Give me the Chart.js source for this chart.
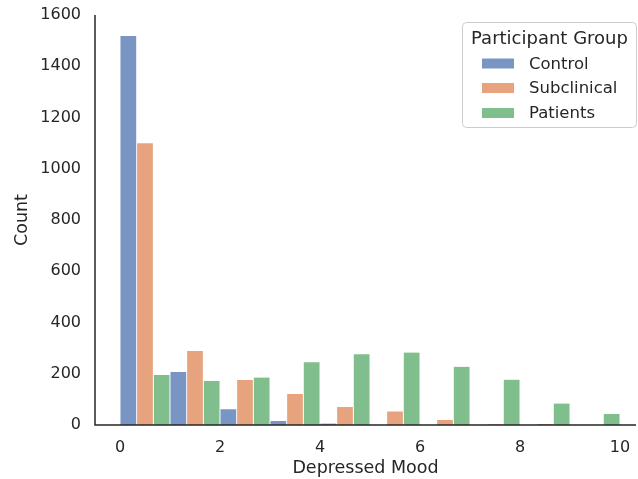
<!DOCTYPE html>
<html>
<head>
<meta charset="utf-8">
<script src="https://cdn.jsdelivr.net/npm/chart.js@4.4.1/dist/chart.umd.min.js"></script>
<style>
  html, body { margin: 0; padding: 0; background: #fff; }
  #wrap { width: 638px; height: 479px; }
</style>
</head>
<body>
<div id="wrap"><canvas id="histChart" width="638" height="479"></canvas></div>
<script>
// Histogram bins of width 1 (left edges 0..9)
const binStarts = [0, 1, 2, 3, 4, 5, 6, 7, 8, 9];
const groupNames = ['Control', 'Subclinical', 'Patients'];
const controlCounts = [1518, 207, 61, 16, 6, 0, 0, 0, 0, 0];
const subclinicalCounts = [1100, 289, 176, 121, 70, 53, 20, 3, 4, 0];
const patientCounts = [195, 172, 185, 245, 276, 283, 227, 177, 84, 43];
const xTicks = [0, 2, 4, 6, 8, 10];
const yTicks = [0, 200, 400, 600, 800, 1000, 1200, 1400, 1600];

const colors = ['rgb(121,149,196)', 'rgb(230,163,125)', 'rgb(128,190,142)'];
const textColor = '#262626';

function toPoints(counts) {
    return binStarts.map((b, i) => ({ x: b + 0.5, y: counts[i] }));
}

// Redraw the left and bottom spines on top of the bars
const spines = {
    id: 'spines',
    afterDatasetsDraw(chart) {
        const { ctx, chartArea } = chart;
        ctx.save();
        ctx.strokeStyle = textColor;
        ctx.lineWidth = 1.5;
        ctx.beginPath();
        ctx.moveTo(chartArea.left, chartArea.top);
        ctx.lineTo(chartArea.left, chartArea.bottom);
        ctx.lineTo(chartArea.right, chartArea.bottom);
        ctx.stroke();
        ctx.restore();
    }
};

// Legend drawn inside the plot, top right
const legendBox = {
    id: 'legendBox',
    afterDraw(chart) {
        const ctx = chart.ctx;
        const x0 = 462.5, y0 = 22.5, w = 174, h = 105;
        ctx.save();
        ctx.fillStyle = 'rgba(255,255,255,0.8)';
        ctx.strokeStyle = '#cccccc';
        ctx.lineWidth = 1;
        ctx.beginPath();
        ctx.roundRect(x0, y0, w, h, 4);
        ctx.fill();
        ctx.stroke();

        ctx.fillStyle = textColor;
        ctx.textAlign = 'center';
        ctx.textBaseline = 'middle';
        ctx.font = '18px "DejaVu Sans"';
        ctx.fillText('Participant Group', x0 + w / 2, 39);

        ctx.textAlign = 'left';
        ctx.font = '16.5px "DejaVu Sans"';
        const rows = [63.5, 88, 113];
        chart.data.datasets.forEach((ds, i) => {
            ctx.fillStyle = ds.backgroundColor;
            ctx.fillRect(482, rows[i] - 5, 32, 10);
            ctx.fillStyle = textColor;
            ctx.fillText(ds.label, 529, rows[i] + 1);
        });
        ctx.restore();
    }
};

new Chart(document.getElementById('histChart'), {
    type: 'bar',
    data: {
        datasets: [
            { label: groupNames[0], data: toPoints(controlCounts), backgroundColor: colors[0] },
            { label: groupNames[1], data: toPoints(subclinicalCounts), backgroundColor: colors[1] },
            { label: groupNames[2], data: toPoints(patientCounts), backgroundColor: colors[2] }
        ]
    },
    options: {
        responsive: false,
        animation: false,
        layout: { padding: { top: 15, right: 2, left: 0, bottom: 0 } },
        datasets: {
            bar: {
                categoryPercentage: 1,
                barPercentage: 1,
                borderColor: '#ffffff',
                borderWidth: { left: 0.8, right: 0.8, top: 0, bottom: 0 },
                borderSkipped: false
            }
        },
        plugins: {
            legend: { display: false },
            tooltip: { enabled: false }
        },
        scales: {
            x: {
                type: 'linear',
                offset: false,
                min: -0.5,
                max: 10.32,
                afterBuildTicks: axis => { axis.ticks = xTicks.map(v => ({ value: v })); },
                afterFit: axis => {
                    axis.height = 54;
                    axis.paddingLeft = 0;
                    axis.paddingRight = 0;
                },
                grid: { display: false, drawTicks: false, offset: false },
                border: { display: false },
                ticks: {
                    color: textColor,
                    font: { family: 'DejaVu Sans', size: 16 },
                    padding: 13,
                    maxRotation: 0,
                    callback: v => String(v)
                },
                title: {
                    display: true,
                    text: 'Depressed Mood',
                    color: textColor,
                    font: { family: 'DejaVu Sans', size: 17.5 },
                    padding: { top: 2, bottom: 0 }
                }
            },
            y: {
                min: 0,
                max: 1600,
                afterBuildTicks: axis => { axis.ticks = yTicks.map(v => ({ value: v })); },
                afterFit: axis => {
                    axis.width = 95;
                    axis.paddingTop = 0;
                    axis.paddingBottom = 0;
                },
                grid: { display: false, drawTicks: false },
                border: { display: false },
                ticks: {
                    color: textColor,
                    font: { family: 'DejaVu Sans', size: 16 },
                    padding: 14,
                    callback: v => String(v)
                },
                title: {
                    display: true,
                    text: 'Count',
                    color: textColor,
                    font: { family: 'DejaVu Sans', size: 17.5 },
                    padding: { top: 12, bottom: 0 }
                }
            }
        }
    },
    plugins: [spines, legendBox]
});
</script>
</body>
</html>
